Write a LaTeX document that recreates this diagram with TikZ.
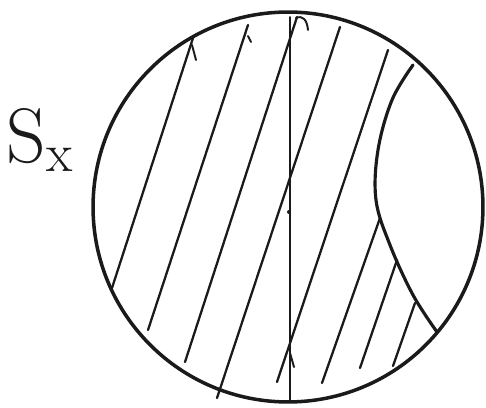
\documentclass[tikz,border=0pt]{standalone}
\definecolor{skink}{HTML}{1A1A1A}
\usepackage{tikz}
\usetikzlibrary{positioning, calc}

\begin{document}
\begin{tikzpicture}[x=0.02cm, y=-0.02cm, line cap=round, line join=round]
    \useasboundingbox (0,0) rectangle (486,408);
    % the disc
    \draw[skink, line width=2pt] (288,207) circle (3.9cm);
    \node[text=skink, font=\fontsize{44}{44}\selectfont] (sx) at (40,140) {S\textsubscript{x}};
    % hatching
    \foreach \xa/\ya/\xb/\yb in {112/288/193/38, 148/330/248/25, 185/362/297/17, 217/398/340/27,
        277/382/388/50, 322/383/380/218, 360/368/397/260, 393/366/415/303}
        \draw[skink, line width=1.3pt] (\xa,\ya) -- (\xb,\yb);
    % the axis
    \draw[skink, line width=1.1pt] (290,400) -- (290,17);
    \draw[skink, line width=1.1pt] (296,18) .. controls (303,15) and (307,20) .. (308,30);
    \draw[skink, line width=1.1pt] (290,353) -- (294,367);
    \draw[skink, line width=1.1pt] (192,45) -- (196,60);
    \draw[skink, line width=1.1pt] (248,36) -- (251,42);
    \fill[skink] (289,212) circle (2);
    % the cut-off region
    \draw[skink, line width=1.8pt] plot[smooth, tension=0.6] coordinates {(413,65) (392,100) (378,150)
        (376,200) (390,245) (413,295) (437,332)};
\end{tikzpicture}
\end{document}
